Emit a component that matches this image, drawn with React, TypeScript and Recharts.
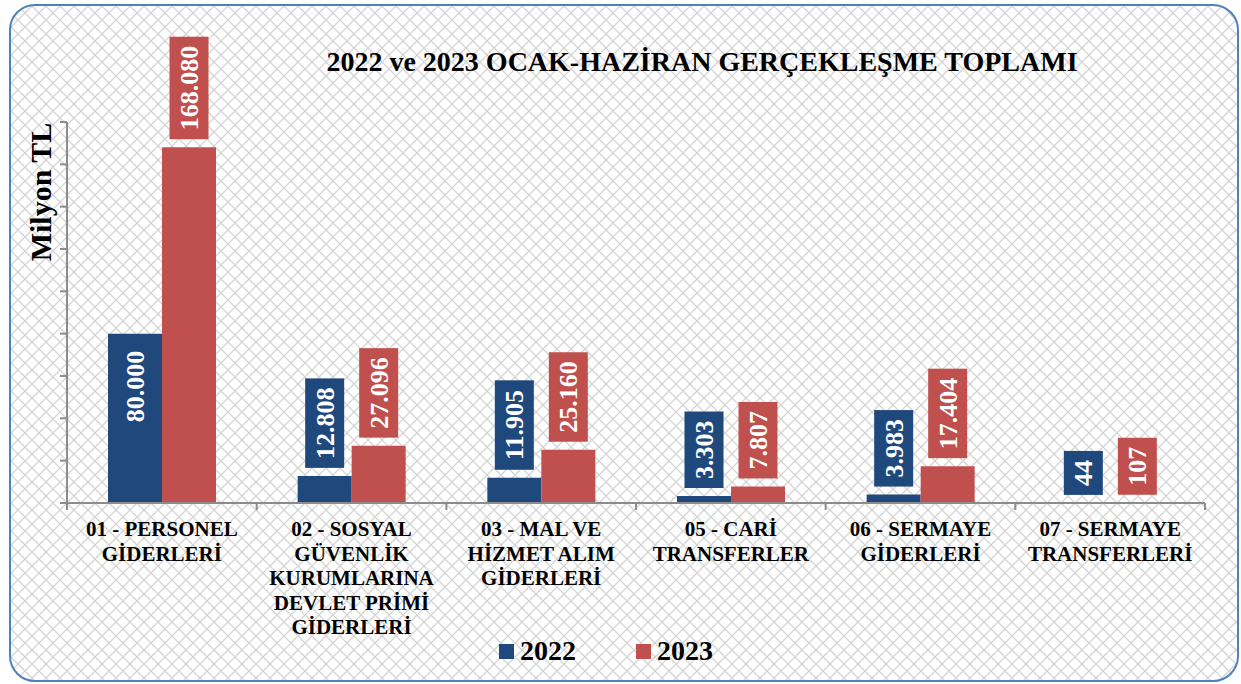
import React from 'react'
import { BarChart, Bar, XAxis, YAxis, LabelList } from 'recharts'

const categories = [
  '01 - PERSONEL\nGİDERLERİ',
  '02 - SOSYAL\nGÜVENLİK\nKURUMLARINA\nDEVLET PRİMİ\nGİDERLERİ',
  '03 - MAL VE\nHİZMET ALIM\nGİDERLERİ',
  '05 - CARİ\nTRANSFERLER',
  '06 - SERMAYE\nGİDERLERİ',
  '07 - SERMAYE\nTRANSFERLERİ',
]
const values2022 = [80000, 12808, 11905, 3303, 3983, 44]
const values2023 = [168080, 27096, 25160, 7807, 17404, 107]
const yTicks = [0, 20000, 40000, 60000, 80000, 100000, 120000, 140000, 160000, 180000]
const seriesNames = ['2022', '2023']

const BLUE = '#1F497D'
const RED = '#C0504D'
const AXIS = '#8C8C8C'
const SERIF = '"Liberation Serif", "DejaVu Serif", "Noto Serif", Tinos, Times, serif'
const serif = { fontFamily: SERIF, fontWeight: 700 }

const W = 1241
const H = 684
const Y_AXIS_W = 7
const M = { top: 122, right: 36, bottom: 51, left: 67 - Y_AXIS_W }
const X_AXIS_H = 130
const STEP = (W - 67 - M.right) / categories.length
const BASE_Y = H - M.bottom - X_AXIS_H

const data = categories.map((name, i) => ({
  name,
  y2022: values2022[i],
  y2023: values2023[i],
}))

const fmt = (v: number) => String(v).replace(/\B(?=(\d{3})+(?!\d))/g, '.')

const LABEL_FS = 26
const textEm = (s: string) => s.split('').reduce((a, c) => a + (c === '.' ? 0.25 : 0.5), 0)

const makeLabel = (color: string, insideFirst: boolean) => (props: any) => {
  const { x, y, width, value, index } = props
  const text = fmt(Number(value))
  const boxH = textEm(text) * LABEL_FS + 18
  const cx = Number(x) + Number(width) / 2
  let bottom = Number(y) - 8
  if (insideFirst && index === 0) bottom = Number(y) + 8 + boxH
  const cy = bottom - boxH / 2
  return (
    <g>
      <rect x={cx - 19.5} y={bottom - boxH} width={39} height={boxH} fill={color} />
      <text
        x={cx}
        y={cy}
        dy="0.35em"
        textAnchor="middle"
        fill="#fff"
        style={{ ...serif, fontSize: LABEL_FS }}
        transform={`rotate(-90, ${cx}, ${cy})`}
      >
        {text}
      </text>
    </g>
  )
}

const CategoryTick = (props: any) => {
  const { x, payload, index } = props
  const lines = String(payload.value).split('\n')
  const left = x - STEP / 2
  return (
    <g>
      <line x1={left} y1={BASE_Y} x2={left} y2={BASE_Y + 7} stroke={AXIS} strokeWidth={2} />
      {index === categories.length - 1 && (
        <line x1={x + STEP / 2} y1={BASE_Y} x2={x + STEP / 2} y2={BASE_Y + 7} stroke={AXIS} strokeWidth={2} />
      )}
      <text textAnchor="middle" fill="#000" style={{ ...serif, fontSize: 21 }}>
        {lines.map((l, i) => (
          <tspan key={i} x={x} y={BASE_Y + 33 + i * 24.6}>
            {l}
          </tspan>
        ))}
      </text>
    </g>
  )
}

const pattern =
  "url(\"data:image/svg+xml;utf8,<svg xmlns='http://www.w3.org/2000/svg' width='14' height='14'><path d='M0 7 L7 0 L14 7 L7 14 Z' fill='none' stroke='%23d4d4d4' stroke-width='1.3'/></svg>\")"

export default function App() {
  return (
    <div style={{ position: 'absolute', left: 0, top: 0, width: W, height: H, background: '#fff' }}>
      <div
        style={{
          position: 'absolute',
          left: 9,
          top: 4,
          width: 1230,
          height: 678,
          boxSizing: 'border-box',
          border: '2px solid #4F81BD',
          borderRadius: 26,
          backgroundColor: '#fff',
          backgroundImage: pattern,
        }}
      />
      <div style={{ position: 'absolute', left: 0, top: 0 }}>
        <BarChart width={W} height={H} data={data} margin={M} barGap={0} barSize={54}>
          <XAxis
            dataKey="name"
            height={X_AXIS_H}
            axisLine={{ stroke: AXIS, strokeWidth: 2 }}
            tickLine={false}
            tick={<CategoryTick />}
            interval={0}
          />
          <YAxis
            width={Y_AXIS_W}
            domain={[0, 180000]}
            ticks={yTicks}
            interval={0}
            axisLine={{ stroke: AXIS, strokeWidth: 2 }}
            tickLine={{ stroke: AXIS, strokeWidth: 2 }}
            tickSize={7}
            tick={{ fontSize: 0 }}
            tickFormatter={() => ''}
          />
          <Bar dataKey="y2022" name={seriesNames[0]} fill={BLUE} isAnimationActive={false}>
            <LabelList dataKey="y2022" content={makeLabel(BLUE, true)} />
          </Bar>
          <Bar dataKey="y2023" name={seriesNames[1]} fill={RED} isAnimationActive={false}>
            <LabelList dataKey="y2023" content={makeLabel(RED, false)} />
          </Bar>
        </BarChart>
      </div>
      <svg width={W} height={H} style={{ position: 'absolute', left: 0, top: 0, pointerEvents: 'none' }}>
        <text x={702} y={71} textAnchor="middle" style={{ ...serif, fontSize: 28 }}>
          2022 ve 2023 OCAK-HAZİRAN GERÇEKLEŞME TOPLAMI
        </text>
        <text x={51} y={192} textAnchor="middle" style={{ ...serif, fontSize: 30 }} transform="rotate(-90, 51, 192)">
          Milyon TL
        </text>
        <rect x={499} y={644} width={15} height={15} fill={BLUE} />
        <text x={520} y={660} style={{ ...serif, fontSize: 28 }}>
          {seriesNames[0]}
        </text>
        <rect x={636} y={644} width={15} height={15} fill={RED} />
        <text x={657} y={660} style={{ ...serif, fontSize: 28 }}>
          {seriesNames[1]}
        </text>
      </svg>
    </div>
  )
}
